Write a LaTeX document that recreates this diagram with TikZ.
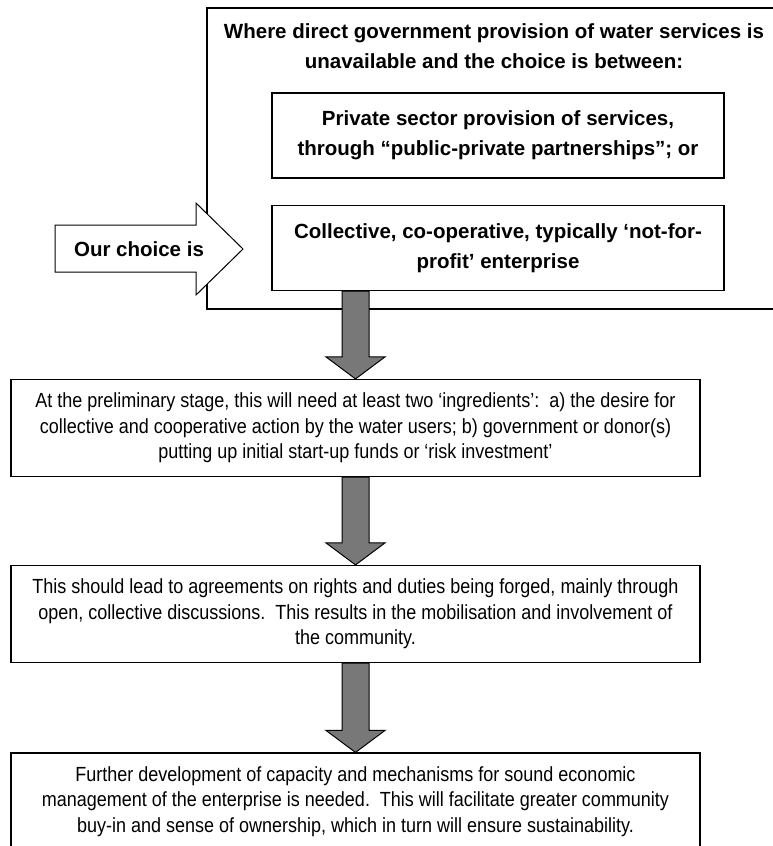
\documentclass[tikz,border=0pt]{standalone}
\usepackage{fontspec}
\setmainfont{Liberation Sans}
\newfontfamily\narrowfont{Liberation Sans}[FakeStretch = 0.88]

\definecolor{arrowgray}{RGB}{120,120,120}
\newcommand{\boldsize}{\fontsize{20.5}{30}\selectfont\bfseries}
\newcommand{\plainsize}{\narrowfont\fontsize{20.45}{25.5}\selectfont}
% grey block arrow from the bottom of #1 down to the top of #2
\newcommand{\flowarrow}[2]{
	\draw[flowgray] (#2.north) -- ++(-29.5,-22) -- ++(16,0)
		-- ([xshift = -13.5pt]#2.north |- #1.south)
		-- ([xshift = 13.5pt]#2.north |- #1.south)
		-- ([xshift = 13.5pt, yshift = 22pt]#2.north) -- ++(16,0) -- cycle;
}

\begin{document}
\begin{tikzpicture}[x = 1pt, y = -1pt,
	frame/.style = {draw, line width = 1.8pt, minimum width = 574pt, minimum height = 301pt},
	boldtext/.style = {inner sep = 0pt, align = center, font = \boldsize},
	choicebox/.style = {draw, line width = 1.2pt, inner sep = 0pt, minimum width = 452pt,
		minimum height = 85pt, align = center, font = \boldsize},
	stagebox/.style = {draw, line width = 1.2pt, inner sep = 0pt, minimum width = 689pt,
		minimum height = 97pt, align = center, font = \plainsize},
	choicearrow/.style = {draw, fill = white, line width = 1pt, line join = miter},
	flowgray/.style = {draw, fill = arrowgray, line width = 1pt, line join = miter}]

	\useasboundingbox (0,0) rectangle (773,846);
	\clip (0,0) rectangle (773,846);

	% the choice
	\node[frame](frame) at (494,158.5){};
	\node[boldtext](where) at (494,46){Where direct government provision of water services is\\
		unavailable and the choice is between:};
	\node[choicebox](private) at (498,135.5){Private sector provision of services,\\
		through “public-private partnerships”; or};
	\node[choicebox](collective) at (498,248){Collective, co-operative, typically ‘not-for-\\
		profit’ enterprise};

	\draw[choicearrow] (55,225) -- (196,225) -- (196,203) -- (243,249)
		-- (196,295) -- (196,272) -- (55,272) -- cycle;
	\node[boldtext](choice) at (139,249){Our choice is};

	% the stages
	\node[stagebox](prelim) at (355.5,428){At the preliminary stage, this will need at least two ‘ingredients’:\ \ a) the desire for\\
		collective and cooperative action by the water users; b) government or donor(s)\\
		putting up initial start-up funds or ‘risk investment’};
	\node[stagebox](agree) at (355.5,614){This should lead to agreements on rights and duties being forged, mainly through\\
		open, collective discussions.\ \ This results in the mobilisation and involvement of\\
		the community.};
	\node[stagebox](develop) at (355.5,801.5){Further development of capacity and mechanisms for sound economic\\
		management of the enterprise is needed.\ \ This will facilitate greater community\\
		buy-in and sense of ownership, which in turn will ensure sustainability.};

	\flowarrow{collective}{prelim}
	\flowarrow{prelim}{agree}
	\flowarrow{agree}{develop}
\end{tikzpicture}
\end{document}
